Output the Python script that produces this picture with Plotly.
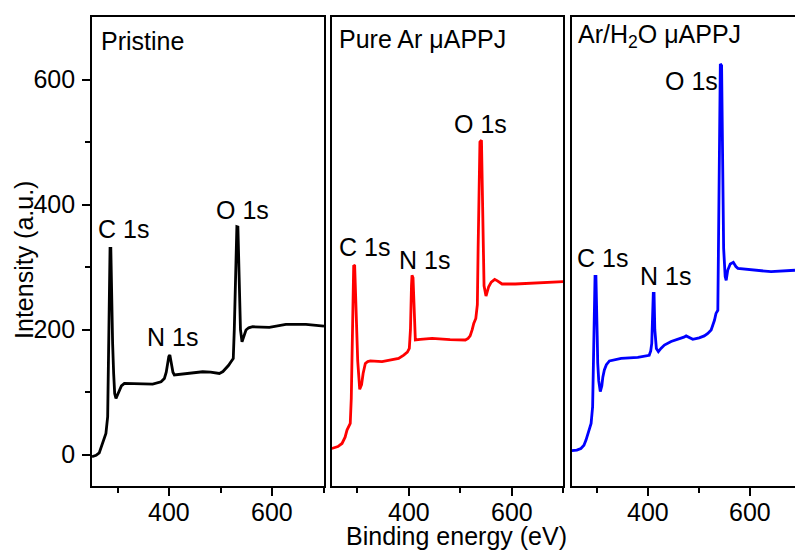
import plotly.graph_objects as go

# XPS survey spectra: binding energy (eV) vs intensity (a.u.)
pristine_be = [250, 258, 264, 270.7, 274, 277, 280.4, 282, 283.7, 285, 286.5, 288, 290, 292,
               294, 296.5, 299, 303, 307, 312.8, 330, 348, 367.7, 384, 390.4, 394, 396.8,
               399, 401, 403, 405, 407, 409.8, 415, 426, 445, 464.7, 480, 497, 504, 510,
               515, 519.6, 524, 526, 528, 529.5, 531, 533, 534.5, 536, 538, 541, 544,
               548.7, 554, 561.7, 594, 610, 626, 665, 697.5, 700]
pristine_int = [-3, -1, 3, 18, 27, 34, 61, 140, 231, 330, 330, 250, 178, 130,
                98, 90, 95, 103.5, 110, 114, 114, 114, 113, 116.7, 122, 132, 146,
                157, 159.4, 152, 140.7, 132, 127.5, 128, 130, 132, 132.7, 132, 130, 133, 138,
                143, 148.7, 154, 200, 258, 330, 364.6, 364, 300, 231, 200, 180.7, 188,
                199.4, 203, 204.7, 203.7, 206, 208.5, 208.5, 205.8, 205.5]

ar_be = [250, 262, 270, 276, 279.7, 286, 288, 289.4, 291, 292.7, 294.6, 296.5, 297.9,
         300.5, 304.4, 308, 311, 315.3, 320, 325, 347.7, 380, 390, 397, 400.8, 403,
         405, 406, 408, 410, 412.5, 422, 445, 480, 509.6, 515, 519, 523, 526, 530,
         533, 534.5, 536, 538, 541, 542.5, 544, 546, 549.8, 552, 555, 560, 566.7, 572,
         581, 606.7, 639, 670, 700]
ar_int = [10, 13, 18, 28, 39.5, 50, 90, 146, 240, 303, 302, 240, 199,
          150, 104.6, 112, 130, 146, 149, 150, 149, 154, 159.4, 164, 170, 200,
          270, 287, 283, 230, 183.5, 184.5, 186, 184, 183.5, 186, 190, 200, 210, 218,
          240, 330, 450, 500, 503, 440, 330, 270, 253.8, 260, 268.7, 276, 280.5, 278,
          273, 273, 274, 275, 276.7]

arh2o_be = [250, 260, 268, 274, 278, 283, 288, 291, 292.2, 293, 294.5, 295.7, 297.5,
            298.8, 300, 301, 303, 306, 309, 311, 314, 318, 324, 347, 379.6, 402, 405,
            407, 408.5, 410, 411.5, 413, 416, 420, 425, 431.8, 445, 464.6, 470, 474.4,
            480, 487.5, 500, 510, 517, 523.5, 530, 533, 536.6, 538, 540, 541.5, 544,
            546, 548, 551, 553, 556, 561, 567, 572, 576, 608.5, 641, 688]
arh2o_int = [6.4, 7.5, 10, 15, 23.5, 36, 50, 77, 150, 199, 260, 285, 285,
             250, 190, 146.6, 118, 101, 110, 124, 135.5, 144, 150, 154, 155.7, 159, 166,
             178, 220, 258, 258, 200, 170, 165, 170, 175.4, 181, 186, 188, 190,
             188, 184.5, 187, 190, 194, 199.4, 215, 226, 231, 333, 520, 625, 622,
             450, 330, 285, 279, 295, 305, 307.7, 301, 298, 295, 292.7, 295]

panel_titles = ["Pristine", "Pure Ar μAPPJ", "Ar/H<sub>2</sub>O μAPPJ"]
line_colors = ["#000000", "#ff0000", "#0000ff"]
x_tick_vals = [400, 600]
x_minor_vals = [300, 500, 700]
y_tick_vals = [0, 200, 400, 600]
y_minor_vals = [100, 300, 500]

# peak labels per panel: (text, binding energy, intensity)
peak_labels = [
    [("C 1s", 311, 361), ("N 1s", 407, 189), ("O 1s", 542, 392)],
    [("C 1s", 313, 332), ("N 1s", 430, 312), ("O 1s", 540, 529)],
    [("C 1s", 310, 315), ("N 1s", 434, 286), ("O 1s", 484, 597)],
]
title_pos = [(264.5, 661), (260, 665), (257.5, 669)]

FONT = "Liberation Sans, Arial, sans-serif"
FS = 25

fig = go.Figure()
series = [(pristine_be, pristine_int), (ar_be, ar_int), (arh2o_be, arh2o_int)]
x_domains = [[0.0, 0.3300], [0.3410, 0.6704], [0.6824, 1.0]]
x_ranges = [[250, 700], [250, 700], [250, 688]]
tick_kw = dict(ticks="outside", tickwidth=1.5, tickcolor="black")

for i, ((xs, ys), col) in enumerate(zip(series, line_colors)):
    n = "" if i == 0 else str(i + 1)
    fig.add_trace(go.Scatter(x=xs, y=ys, mode="lines",
                             line=dict(color=col, width=2.8),
                             xaxis="x" + n, yaxis="y" + n, showlegend=False))
    axis_common = dict(showline=True, linecolor="black", linewidth=1.6,
                       showgrid=False, zeroline=False)
    fig.layout["xaxis" + n] = dict(
        domain=x_domains[i], range=x_ranges[i], anchor="y" + n,
        mirror=True, ticklen=8, tickvals=x_tick_vals, showticklabels=False,
        minor=dict(tickvals=x_minor_vals, ticklen=5, **tick_kw),
        **tick_kw, **axis_common)
    if i == 0:
        fig.layout["yaxis" + n] = dict(
            domain=[0, 1], range=[-50, 700], anchor="x" + n, mirror=True,
            ticklen=8, tickvals=y_tick_vals,
            minor=dict(tickvals=y_minor_vals, ticklen=5, **tick_kw),
            tickfont=dict(family=FONT, size=FS, color="black"),
            ticklabelstandoff=2,
            **tick_kw, **axis_common)
    else:
        fig.layout["yaxis" + n] = dict(
            domain=[0, 1], range=[-50, 700], anchor="x" + n,
            mirror=(i == 1), showticklabels=False, ticks="",
            **axis_common)

    # x tick labels under each panel
    for v in x_tick_vals:
        if x_ranges[i][0] <= v <= x_ranges[i][1]:
            fig.add_annotation(x=v, y=-0.0553, xref="x" + n, yref="paper",
                               text=str(v), showarrow=False,
                               xanchor="center", yanchor="middle",
                               font=dict(family=FONT, size=FS, color="black"))

    tx, ty = title_pos[i]
    fig.add_annotation(x=tx, y=ty, xref="x" + n, yref="y" + n, text=panel_titles[i],
                       showarrow=False, xanchor="left", yanchor="middle",
                       font=dict(family=FONT, size=FS, color="black"))
    for txt, lx, ly in peak_labels[i]:
        fig.add_annotation(x=lx, y=ly, xref="x" + n, yref="y" + n, text=txt,
                           showarrow=False, xanchor="center", yanchor="middle",
                           font=dict(family=FONT, size=FS, color="black"))

fig.add_annotation(x=-0.0967, y=0.482, xref="paper", yref="paper",
                   text="Intensity (a.u.)", textangle=-90, showarrow=False,
                   xanchor="center", yanchor="middle",
                   font=dict(family=FONT, size=FS, color="black"))
fig.add_annotation(x=0.5178, y=-0.107, xref="paper", yref="paper",
                   text="Binding energy (eV)", showarrow=False,
                   xanchor="center", yanchor="middle",
                   font=dict(family=FONT, size=FS, color="black"))

fig.update_layout(width=795, height=552,
                  margin=dict(l=92, r=0, t=17, b=66),
                  paper_bgcolor="white", plot_bgcolor="white",
                  showlegend=False)

fig.write_html("out.html")
